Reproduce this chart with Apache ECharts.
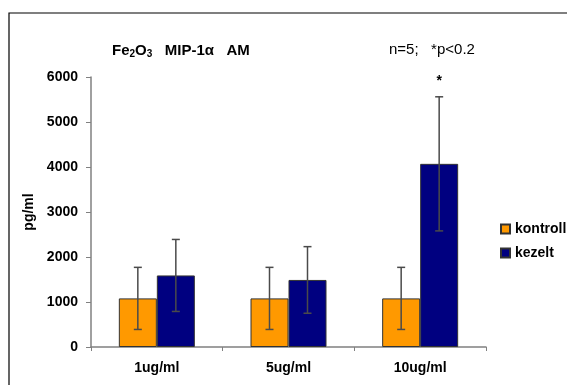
<!DOCTYPE html>
<html>
<head>
<meta charset="utf-8">
<script src="https://cdn.jsdelivr.net/npm/echarts@6/dist/echarts.min.js"></script>
<style>
  html, body { margin: 0; padding: 0; background: #fff; }
  #chart { width: 567px; height: 385px; }
</style>
</head>
<body>
<div id="chart"></div>
<script>
const categories = ['1ug/ml', '5ug/ml', '10ug/ml'];
const kontroll = [1080, 1080, 1080];
const kontrollErr = [690, 690, 690];
const kezelt = [1590, 1490, 4070];
const kezeltErr = [800, 740, 1490];
const significance = ['', '', '*'];

const BAR_W = 38;
const chart = echarts.init(document.getElementById('chart'));

// error bar renderer, offset (px) shifts whisker onto left/right bar of the pair
function errorBars(means, errs, offset, marks) {
  return {
    type: 'custom',
    silent: true,
    z: 5,
    data: means.map((m, i) => [i, m - errs[i], m + errs[i]]),
    renderItem: (params, api) => {
      const lo = api.coord([api.value(0), api.value(1)]);
      const hi = api.coord([api.value(0), api.value(2)]);
      const x = lo[0] + offset;
      const cap = 4;
      const style = { stroke: '#4a4a4a', lineWidth: 1.5 };
      const children = [
        { type: 'line', shape: { x1: x, y1: lo[1], x2: x, y2: hi[1] }, style },
        { type: 'line', shape: { x1: x - cap, y1: lo[1], x2: x + cap, y2: lo[1] }, style },
        { type: 'line', shape: { x1: x - cap, y1: hi[1], x2: x + cap, y2: hi[1] }, style }
      ];
      if (marks && marks[params.dataIndex]) {
        children.push({
          type: 'text',
          style: {
            text: marks[params.dataIndex], x: x, y: hi[1] - 16,
            align: 'center', verticalAlign: 'middle',
            font: 'bold 14px Arial, "Liberation Sans", sans-serif', fill: '#000'
          }
        });
      }
      return { type: 'group', children };
    }
  };
}

chart.setOption({
  animation: false,
  textStyle: { fontFamily: 'Arial, "Liberation Sans", sans-serif' },
  graphic: [{
    type: 'rect',
    shape: { x: 9, y: 13, width: 600, height: 400 },
    style: { fill: 'none', stroke: '#000', lineWidth: 1.2 },
    silent: true
  }],
  title: [{
    text: 'Fe{s|2}O{s|3}   MIP-1α   AM',
    left: 107, top: 37,
    textStyle: {
      fontSize: 15, fontWeight: 'bold', color: '#000',
      rich: { s: { fontSize: 10, fontWeight: 'bold', verticalAlign: 'bottom', padding: [7, 0, 0, 0] } }
    }
  }, {
    text: 'n=5;   *p<0.2',
    left: 384, top: 37,
    textStyle: { fontSize: 15, fontWeight: 'normal', color: '#000' }
  }],
  legend: {
    orient: 'vertical',
    left: 500, top: 222,
    padding: 0,
    itemWidth: 9, itemHeight: 9, itemGap: 10,
    icon: 'rect',
    textStyle: { fontSize: 14, fontWeight: 'bold', color: '#000' },
    data: ['kontroll', 'kezelt']
  },
  grid: { left: 91, right: 81, top: 77, bottom: 38, containLabel: false },
  xAxis: {
    type: 'category',
    data: categories,
    axisLine: { lineStyle: { color: '#808080', width: 1.5 } },
    axisTick: { show: true, length: 4, lineStyle: { color: '#808080' } },
    axisLabel: { fontSize: 14, fontWeight: 'bold', color: '#000', margin: 14 }
  },
  yAxis: {
    type: 'value',
    min: 0, max: 6000, interval: 1000,
    name: 'pg/ml',
    nameLocation: 'middle',
    nameGap: 52,
    nameRotate: 90,
    nameTextStyle: { fontSize: 14, fontWeight: 'bold', color: '#000' },
    axisLine: { show: true, lineStyle: { color: '#808080', width: 1.5 } },
    axisTick: { show: true, length: 5, lineStyle: { color: '#808080' } },
    axisLabel: { fontSize: 14, fontWeight: 'bold', color: '#000', margin: 13, formatter: v => String(v) },
    splitLine: { show: false }
  },
  series: [{
    name: 'kontroll',
    type: 'bar',
    data: kontroll,
    barWidth: BAR_W,
    barGap: '0%',
    itemStyle: { color: '#FF9900', borderColor: '#333', borderWidth: 1 }
  }, {
    name: 'kezelt',
    type: 'bar',
    data: kezelt,
    barWidth: BAR_W,
    barGap: '0%',
    itemStyle: { color: '#000080', borderColor: '#333', borderWidth: 1 }
  },
  errorBars(kontroll, kontrollErr, -BAR_W / 2, null),
  errorBars(kezelt, kezeltErr, BAR_W / 2, significance)
  ]
});
</script>
</body>
</html>
